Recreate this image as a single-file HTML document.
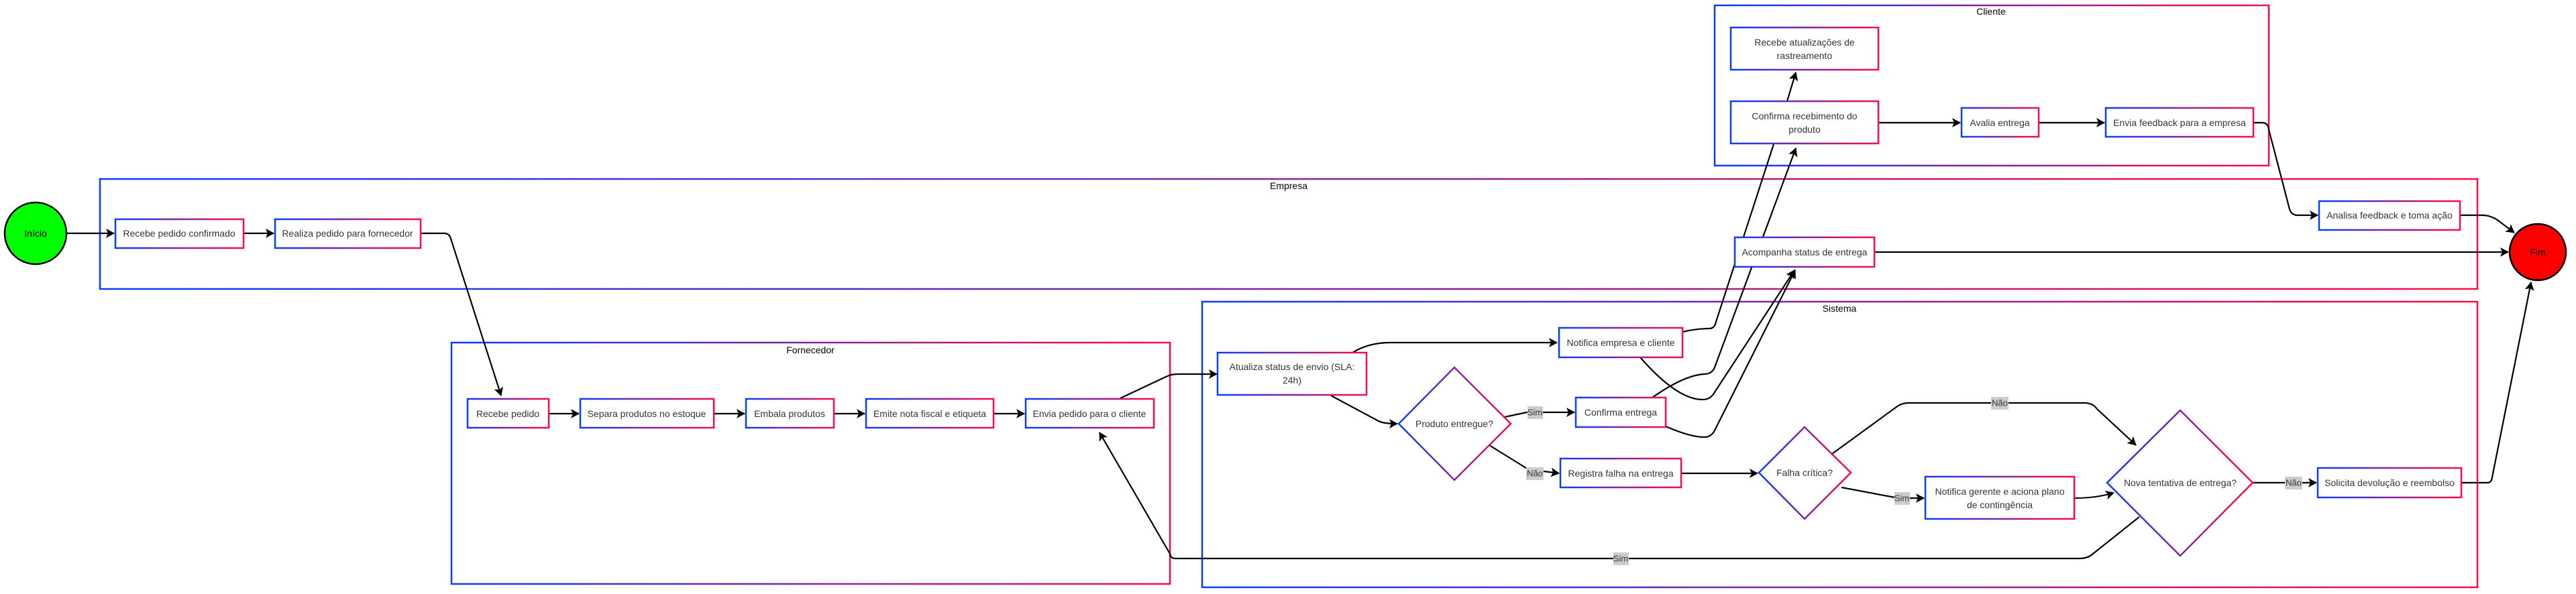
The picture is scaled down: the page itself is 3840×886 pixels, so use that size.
<!DOCTYPE html>
<html><head><meta charset="utf-8"><style>
html,body{margin:0;padding:0;background:#fff;}
svg{display:block;}
text{font-family:"Liberation Sans",sans-serif;}
.t{font-size:14px;fill:#333;text-anchor:middle;dominant-baseline:central;}
.h{font-size:14px;fill:#000;text-anchor:middle;dominant-baseline:central;}
.e{fill:none;stroke:#000;stroke-width:2.2;}
.b{fill:#fff;stroke:url(#g);stroke-width:2.5;}
.c{fill:none;stroke:url(#g);stroke-width:2.5;}
.lb{fill:#ccc;}
.lt{font-size:13px;fill:#333;text-anchor:middle;dominant-baseline:central;}
</style></head><body>
<svg width="3840" height="886" viewBox="0 0 3840 886" xmlns="http://www.w3.org/2000/svg">
<defs>
<linearGradient id="g" x1="0" y1="0" x2="1" y2="0">
<stop offset="0" stop-color="#0a3cff"/><stop offset="1" stop-color="#ff0a46"/>
</linearGradient>
<marker id="a" markerUnits="userSpaceOnUse" markerWidth="14" markerHeight="14" refX="12" refY="7" orient="auto">
<path d="M0,0 L13,7 L0,14 L3,7 Z" fill="#000"/>
</marker>
</defs>

<!-- containers -->
<rect class="c" x="2556" y="8" width="826" height="239"/>
<text class="h" x="2968" y="17">Cliente</text>
<rect class="c" x="149" y="267" width="3544" height="164"/>
<text class="h" x="1921" y="277">Empresa</text>
<rect class="c" x="673" y="511" width="1071" height="360"/>
<text class="h" x="1208" y="522">Fornecedor</text>
<rect class="c" x="1792" y="450" width="1901" height="426"/>
<text class="h" x="2742" y="460">Sistema</text>

<!-- edges -->
<path class="e" d="M100,348 L170,348" marker-end="url(#a)"/>
<path class="e" d="M363,348 L408,348" marker-end="url(#a)"/>
<path class="e" d="M627,348 L662,348 Q670,348 672,356 L747,590" marker-end="url(#a)"/>
<path class="e" d="M818,617 L863,617" marker-end="url(#a)"/>
<path class="e" d="M1064,617 L1110,617" marker-end="url(#a)"/>
<path class="e" d="M1243,617 L1289,617" marker-end="url(#a)"/>
<path class="e" d="M1481,617 L1527,617" marker-end="url(#a)"/>
<path class="e" d="M1670,594 L1738,562 Q1746,558 1756,558 L1814,558" marker-end="url(#a)"/>
<path class="e" d="M2016,526 Q2040,511 2073,511 L2321,511" marker-end="url(#a)"/>
<path class="e" d="M1984,590 L2055,628 Q2062,632 2083,632" marker-end="url(#a)"/>
<path class="e" d="M2243,622 L2276,615 L2347,615" marker-end="url(#a)"/>
<path class="e" d="M2220,664 L2278,700 L2324,706" marker-end="url(#a)"/>
<path class="e" d="M2506,706 L2620,706" marker-end="url(#a)"/>
<path class="e" d="M2745,727 L2830,743 L2868,743" marker-end="url(#a)"/>
<path class="e" d="M3092,743 Q3125,743 3151,735" marker-end="url(#a)"/>
<path class="e" d="M2731,677 L2827,607 Q2835,601 2845,601 L3107,601 Q3120,601 3126,610 L3184,664" marker-end="url(#a)"/>
<path class="e" d="M3358,720 L3453,720" marker-end="url(#a)"/>
<path class="e" d="M3669,720 L3708,720 Q3714,720 3715,712 L3773,421" marker-end="url(#a)"/>
<path class="e" d="M3189,771 L3120,826 Q3112,833 3100,833 L1752,833 Q1745,833 1744,826 L1639,645" marker-end="url(#a)"/>
<!-- sistema to cliente/empresa -->
<path class="e" d="M2508,495 Q2530,490 2548,490 Q2556,490 2558,480 L2644,215"/>
<path class="e" d="M2463,593 Q2510,560 2540,558 Q2552,558 2556,548 L2677,221" marker-end="url(#a)"/>
<path class="e" d="M2445,533 Q2500,596 2538,596 Q2550,596 2556,585 L2675,403" marker-end="url(#a)"/>
<path class="e" d="M2483,636 Q2520,652 2540,652 Q2552,652 2557,640 L2676,403" marker-end="url(#a)"/>
<!-- cliente -->
<path class="e" d="M2664,151 L2677,108" marker-end="url(#a)"/>
<path class="e" d="M2800,183 L2922,183" marker-end="url(#a)"/>
<path class="e" d="M3039,183 L3137,183" marker-end="url(#a)"/>
<path class="e" d="M3359,183 L3372,183 Q3381,183 3382,193 L3413,312 Q3416,321 3425,321 L3455,321" marker-end="url(#a)"/>
<path class="e" d="M3667,321 L3700,321 Q3715,321 3728,332 L3748,347" marker-end="url(#a)"/>
<path class="e" d="M2794,376 L3739,376" marker-end="url(#a)"/>

<!-- edge labels -->
<rect class="lb" x="2277" y="606" width="23" height="19"/><text class="lt" x="2288" y="615">Sim</text>
<rect class="lb" x="2275" y="697" width="26" height="19"/><text class="lt" x="2288" y="706">Não</text>
<rect class="lb" x="2405" y="824" width="23" height="19"/><text class="lt" x="2416" y="833">Sim</text>
<rect class="lb" x="2824" y="734" width="23" height="19"/><text class="lt" x="2835" y="743">Sim</text>
<rect class="lb" x="2968" y="592" width="26" height="19"/><text class="lt" x="2981" y="601">Não</text>
<rect class="lb" x="3406" y="711" width="26" height="19"/><text class="lt" x="3419" y="720">Não</text>

<!-- terminals -->
<circle cx="53" cy="348" r="46" fill="#00ff00" stroke="#000" stroke-width="2.5"/>
<text class="h" x="53" y="348">Início</text>
<circle cx="3783" cy="376" r="42" fill="#ff0000" stroke="#000" stroke-width="2.5"/>
<text class="h" x="3783" y="376">Fim</text>

<!-- empresa -->
<rect class="b" x="172" y="327" width="191" height="43"/><text class="t" x="267" y="348">Recebe pedido confirmado</text>
<rect class="b" x="410" y="327" width="217" height="43"/><text class="t" x="518" y="348">Realiza pedido para fornecedor</text>
<rect class="b" x="2586" y="354" width="208" height="44"/><text class="t" x="2690" y="376">Acompanha status de entrega</text>
<rect class="b" x="3457" y="300" width="210" height="43"/><text class="t" x="3562" y="321">Analisa feedback e toma ação</text>

<!-- cliente -->
<rect class="b" x="2580" y="41" width="220" height="63"/><text class="t" x="2690" y="63">Recebe atualizações de</text><text class="t" x="2690" y="83">rastreamento</text>
<rect class="b" x="2580" y="151" width="220" height="63"/><text class="t" x="2690" y="173">Confirma recebimento do</text><text class="t" x="2690" y="193">produto</text>
<rect class="b" x="2924" y="161" width="115" height="43"/><text class="t" x="2981" y="183">Avalia entrega</text>
<rect class="b" x="3139" y="161" width="220" height="43"/><text class="t" x="3249" y="183">Envia feedback para a empresa</text>

<!-- fornecedor -->
<rect class="b" x="697" y="595" width="121" height="43"/><text class="t" x="757" y="617">Recebe pedido</text>
<rect class="b" x="865" y="595" width="199" height="43"/><text class="t" x="964" y="617">Separa produtos no estoque</text>
<rect class="b" x="1112" y="595" width="131" height="43"/><text class="t" x="1177" y="617">Embala produtos</text>
<rect class="b" x="1291" y="595" width="190" height="43"/><text class="t" x="1386" y="617">Emite nota fiscal e etiqueta</text>
<rect class="b" x="1529" y="595" width="191" height="43"/><text class="t" x="1624" y="617">Envia pedido para o cliente</text>

<!-- sistema -->
<rect class="b" x="1815" y="526" width="222" height="63"/><text class="t" x="1926" y="547">Atualiza status de envio (SLA:</text><text class="t" x="1926" y="567">24h)</text>
<polygon class="b" points="2168,548 2252,632 2168,716 2085,632"/><text class="t" x="2168" y="632">Produto entregue?</text>
<rect class="b" x="2324" y="489" width="184" height="44"/><text class="t" x="2416" y="511">Notifica empresa e cliente</text>
<rect class="b" x="2349" y="593" width="134" height="44"/><text class="t" x="2416" y="615">Confirma entrega</text>
<rect class="b" x="2326" y="684" width="180" height="43"/><text class="t" x="2416" y="706">Registra falha na entrega</text>
<polygon class="b" points="2690,637 2759,705 2690,774 2622,705"/><text class="t" x="2690" y="705">Falha crítica?</text>
<rect class="b" x="2870" y="711" width="222" height="63"/><text class="t" x="2981" y="733">Notifica gerente e aciona plano</text><text class="t" x="2981" y="753">de contingência</text>
<polygon class="b" points="3250,612 3358,720 3250,829 3141,720"/><text class="t" x="3250" y="720">Nova tentativa de entrega?</text>
<rect class="b" x="3455" y="698" width="214" height="44"/><text class="t" x="3562" y="720">Solicita devolução e reembolso</text>
</svg>
</body></html>
